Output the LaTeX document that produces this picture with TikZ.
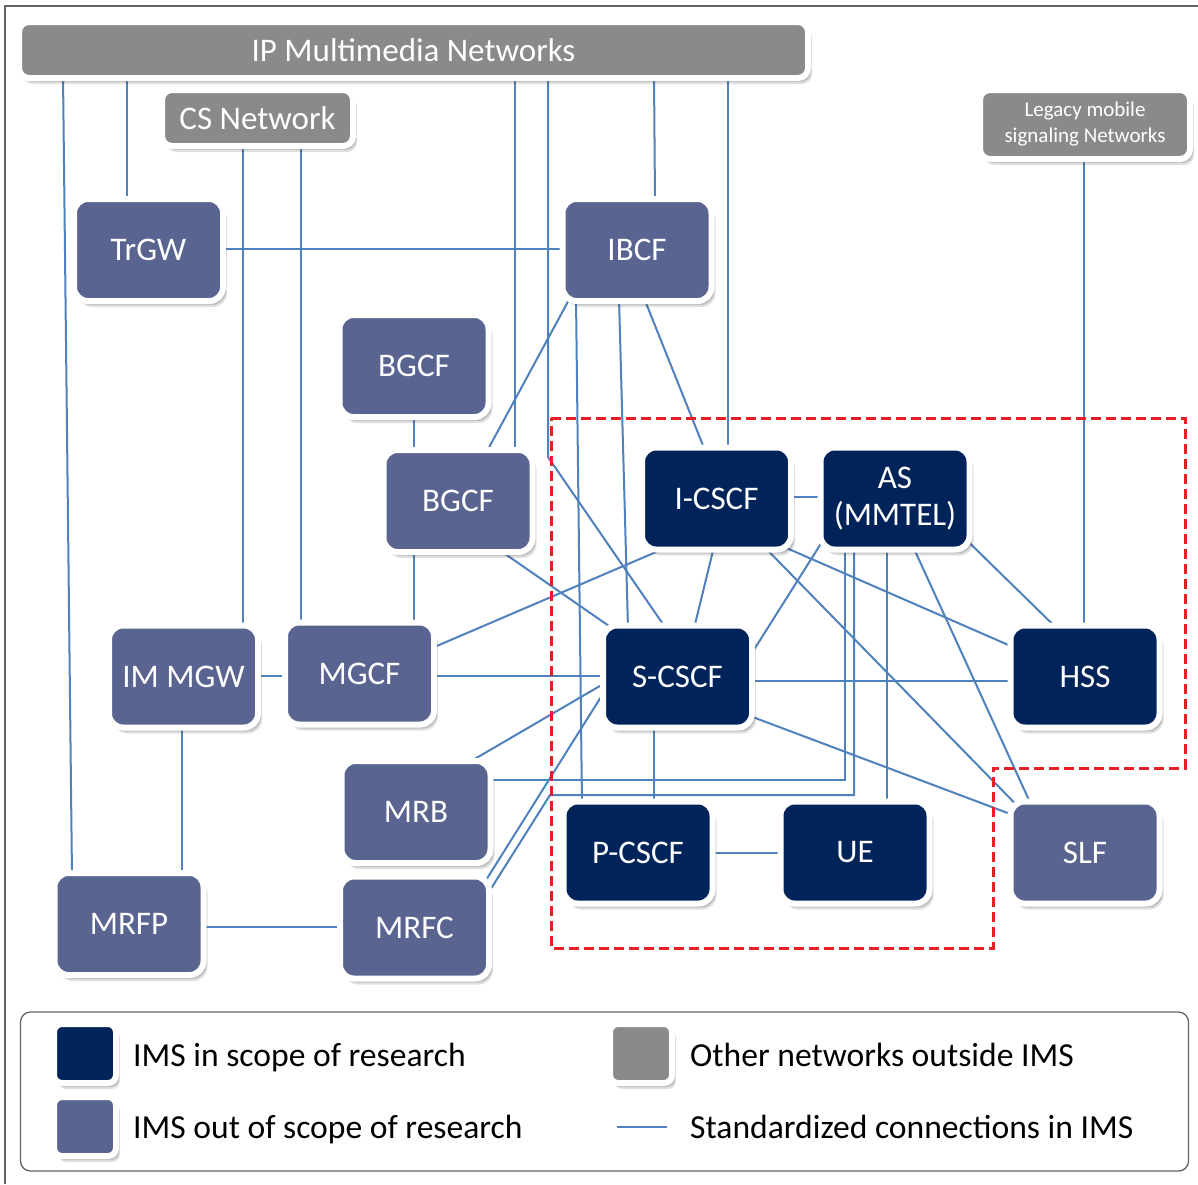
\documentclass[tikz,border=0pt]{standalone}
\usepackage{fontspec}
\setmainfont{Carlito}
\usetikzlibrary{calc,backgrounds,shadows}

\definecolor{imsin}{RGB}{0,36,90}
\definecolor{imsout}{RGB}{90,100,145}
\definecolor{netgray}{RGB}{137,138,140}
\definecolor{linkblue}{RGB}{79,129,189}
\definecolor{scopered}{RGB}{232,30,37}
\definecolor{framegray}{RGB}{100,100,100}

\newcommand{\boxfont}{\fontsize{33}{37}\selectfont}
\newcommand{\legendfont}{\fontsize{33.6}{37}\selectfont}
\newcommand{\smallboxfont}{\fontsize{21}{26}\selectfont}

\tikzset{
  box/.style={rectangle, rounded corners=14pt, draw=white, line width=6pt,
    minimum width=149pt, minimum height=102pt, inner sep=0pt,
    text=white, font=\boxfont, align=center,
    drop shadow={shadow xshift=4pt, shadow yshift=-6pt, opacity=0.12, fill=black},
    drop shadow={shadow xshift=3pt, shadow yshift=-4pt, opacity=0.22, fill=black!70}},
  inscope/.style={box, fill=imsin},
  outscope/.style={box, fill=imsout},
  extnet/.style={box, fill=netgray, rounded corners=10pt},
  legsq/.style={box, rounded corners=8pt, minimum width=62pt, minimum height=59pt},
  link/.style={draw=linkblue, line width=2pt},
  scopeline/.style={draw=scopered, line width=3pt, dashed, dash pattern=on 10pt off 5pt},
  legtext/.style={anchor=base west, inner sep=0pt, font=\legendfont, text=black},
}

\begin{document}
\begin{tikzpicture}[x=1pt, y=-1pt]
\useasboundingbox (0,0) rectangle (1198,1184);

% outer frame
\draw[framegray, line width=1.5pt] (5,1184) -- (5,6) -- (1198,6);

% external networks
\node[extnet, minimum width=789pt, minimum height=56pt] (IPMN) at (413.5,50) {IP Multimedia Networks};
\node[extnet, minimum width=191pt, minimum height=56pt] (CSN) at (257.5,118) {CS Network};
\node[extnet, minimum width=210pt, minimum height=69pt, font=\smallboxfont] (LEG) at (1085,124.5) {Legacy mobile\\signaling Networks};

% IMS functions outside the research scope
\node[outscope] (TrGW) at (148.5,250) {TrGW};
\node[outscope] (IBCF) at (637,250) {IBCF};
\node[outscope] (BG1) at (414,366) {BGCF};
\node[outscope] (BG2) at (458,501) {BGCF};
\node[outscope] (MGW) at (183.5,676.5) {IM MGW};
\node[outscope] (MGCF) at (359.5,673.5) {MGCF};
\node[outscope] (MRB) at (416,812) {MRB};
\node[outscope] (MRFP) at (129,924) {MRFP};
\node[outscope] (MRFC) at (414.5,927.5) {MRFC};
\node[outscope] (SLF) at (1085,852.5) {SLF};

% IMS functions inside the research scope
\node[inscope] (ICSCF) at (716.5,498.5) {I-CSCF};
\node[inscope] (AS) at (895,498.5) {AS\\(MMTEL)};
\node[inscope] (SCSCF) at (677.5,676.5) {S-CSCF};
\node[inscope] (HSS) at (1085,676.5) {HSS};
\node[inscope] (PCSCF) at (638,852.5) {P-CSCF};
\node[inscope] (UE) at (855,852.5) {UE};

% bends of routed connections
\coordinate (k4) at (548,457);
\coordinate (k25) at (550,795);

\begin{scope}[on background layer]
  \fill[white] (0,0) rectangle (1198,1184);
  % links to the external networks
  \draw[link] ($(IPMN)+(-350.5,25)$) -- ($(MRFP)+(-57,-48)$);
  \draw[link] ($(IPMN)+(-286.5,25)$) -- ($(TrGW)+(-21.5,-48)$);
  \draw[link] ($(IPMN)+(101.5,25)$) -- ($(BG2)+(57,-48)$);
  \draw[link] ($(IPMN)+(134.5,25)$) -- (k4) -- ($(SCSCF)+(-11.5,-48)$);
  \draw[link] ($(IPMN)+(240.5,25)$) -- ($(IBCF)+(18,-48)$);
  \draw[link] ($(IPMN)+(314.5,25)$) -- ($(ICSCF)+(11.5,-48)$);
  \draw[link] ($(CSN)+(-14.5,25)$) -- ($(MGW)+(59.5,-48)$);
  \draw[link] ($(CSN)+(43.5,25)$) -- ($(MGCF)+(-58.5,-48)$);
  \draw[link] ($(LEG)+(-1,31.5)$) -- ($(HSS)+(-1,-48)$);
  % IBCF and breakout links
  \draw[link] ($(TrGW)+(71.5,-1)$) -- ($(IBCF)+(-71,-1)$);
  \draw[link] ($(BG1)+(0,48)$) -- ($(BG2)+(-44,-48)$);
  \draw[link] ($(BG2)+(-44,48)$) -- ($(MGCF)+(54.5,-48)$);
  \draw[link] ($(BG2)+(28,-48)$) -- ($(IBCF)+(-66,46)$);
  \draw[link] ($(BG2)+(40,48)$) -- ($(SCSCF)+(-62,-46)$);
  \draw[link] ($(IBCF)+(-61,48)$) -- ($(PCSCF)+(-56,-48)$);
  \draw[link] ($(IBCF)+(-18,48)$) -- ($(SCSCF)+(-49.5,-48)$);
  \draw[link] ($(IBCF)+(7,48)$) -- ($(ICSCF)+(-11.5,-48)$);
  % I-CSCF links
  \draw[link] ($(ICSCF)+(71.5,-1.5)$) -- ($(AS)+(-73,-1.5)$);
  \draw[link] ($(ICSCF)+(-47.5,48)$) -- ($(MGCF)+(72.5,-25.5)$);
  \draw[link] ($(ICSCF)+(-2.5,48)$) -- ($(SCSCF)+(16.5,-48)$);
  \draw[link] ($(ICSCF)+(47.5,48)$) -- ($(SLF)+(-68,-47)$);
  \draw[link] ($(ICSCF)+(66.5,48)$) -- ($(HSS)+(-72,-29.5)$);
  % AS links
  \draw[link] ($(AS)+(-74,45)$) -- ($(SCSCF)+(72.5,-20.5)$);
  \draw[link] ($(AS)+(-50,48)$) |- ($(MRB)+(72,-32)$);
  \draw[link] ($(AS)+(-41,48)$) |- (k25) -- ($(MRFC)+(72.5,-32.5)$);
  \draw[link] ($(AS)+(-8,48)$) -- ($(UE)+(32,-48)$);
  \draw[link] ($(AS)+(18,48)$) -- ($(SLF)+(-54,-48)$);
  \draw[link] ($(AS)+(73,43)$) -- ($(HSS)+(-28,-48)$);
  % S-CSCF links
  \draw[link] ($(SCSCF)+(72.5,4.5)$) -- ($(HSS)+(-72,4.5)$);
  \draw[link] ($(SCSCF)+(72.5,39.5)$) -- ($(SLF)+(-72,-37.5)$);
  \draw[link] ($(SCSCF)+(-23.5,48)$) -- ($(PCSCF)+(16,-48)$);
  \draw[link] ($(SCSCF)+(-72.5,6.5)$) -- ($(MRB)+(50,-48)$);
  \draw[link] ($(SCSCF)+(-72.5,14)$) -- ($(MRFC)+(70,-45)$);
  \draw[link] ($(MGCF)+(72.5,2.5)$) -- ($(SCSCF)+(-72.5,-0.5)$);
  % remaining links
  \draw[link] ($(PCSCF)+(72,0)$) -- ($(UE)+(-73,0)$);
  \draw[link] ($(MGW)+(72.5,-0.5)$) -- ($(MGCF)+(-72.5,2.5)$);
  \draw[link] ($(MGW)+(-1.5,48)$) -- ($(MRFP)+(53,-48)$);
  \draw[link] ($(MRFP)+(73,3)$) -- ($(MRFC)+(-72.5,-0.5)$);
\end{scope}

% research scope boundary
\draw[scopeline] (551,418) -- (1185,418) -- (1185,768) -- (993,768) -- (993,948) -- (551,948) -- cycle;

% legend
\node[draw=framegray, line width=1.3pt, rounded corners=10pt, minimum width=1168pt, minimum height=159pt] (LGD) at (604.5,1091.5) {};
\node[legsq, fill=imsin] (LIN) at (85,1053.5) {};
\node[legsq, fill=netgray] (LNET) at (641,1053.5) {};
\node[legsq, fill=imsout] (LOUT) at (85,1126.5) {};
\coordinate (LLa) at (617,1126.5);
\coordinate (LLb) at (667,1126.5);
\draw[link] (LLa) -- (LLb);
\node[legtext] (T1) at (133,1066) {IMS in scope of research};
\node[legtext] (T2) at (690,1066) {Other networks outside IMS};
\node[legtext] (T3) at (133,1138) {IMS out of scope of research};
\node[legtext] (T4) at (690,1138) {Standardized connections in IMS};
\end{tikzpicture}
\end{document}
